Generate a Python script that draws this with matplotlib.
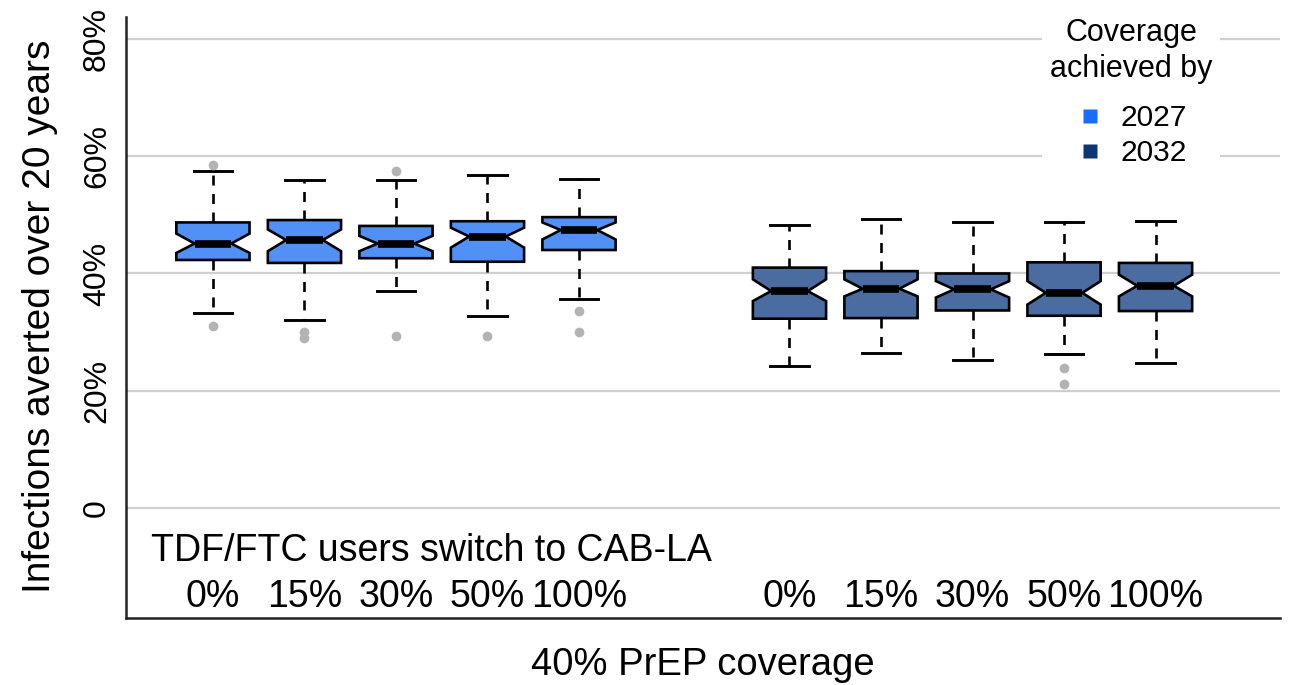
import matplotlib
matplotlib.use("Agg")
import matplotlib.pyplot as plt
from matplotlib.lines import Line2D
from matplotlib.patches import Rectangle

plt.rcParams['font.family'] = ['Liberation Sans', 'DejaVu Sans']

# switch shares and the two coverage years
switch_labels = ['0%', '15%', '30%', '50%', '100%']
years = ['2027', '2032']

# box statistics, % of infections averted (2027 first, then 2032)
med = [45.1, 45.7, 45.1, 46.3, 47.4, 37.0, 37.4, 37.3, 36.7, 37.9]
q1 = [42.3, 41.8, 42.6, 42.0, 44.0, 32.3, 32.4, 33.7, 32.8, 33.6]
q3 = [48.7, 49.1, 48.1, 48.9, 49.6, 41.0, 40.4, 40.0, 41.9, 41.8]
whislo = [33.3, 32.0, 37.0, 32.7, 35.7, 24.2, 26.4, 25.3, 26.3, 24.7]
whishi = [57.4, 56.0, 56.0, 56.8, 56.1, 48.2, 49.3, 48.8, 48.8, 48.9]
cilo = [43.5, 43.8, 43.8, 44.4, 45.8, 35.3, 36.1, 35.9, 34.7, 36.1]
cihi = [46.8, 47.5, 46.4, 47.8, 48.7, 39.0, 39.0, 38.7, 38.7, 39.8]
fliers = [[58.5, 31.0], [30.0, 29.0], [57.5, 29.3], [29.4], [33.6, 30.0],
          [], [], [], [23.9, 21.1], []]

positions = [1, 2, 3, 4, 5, 7.3, 8.3, 9.3, 10.3, 11.3]
box_colors = ['#5191f6'] * 5 + ['#4a6ca1'] * 5
legend_colors = ['#1a6cff', '#0d3572']

stats = []
for i in range(len(med)):
    stats.append(dict(med=med[i], q1=q1[i], q3=q3[i], whislo=whislo[i],
                      whishi=whishi[i], cilo=cilo[i], cihi=cihi[i],
                      fliers=fliers[i]))

W, H = 1289, 685
fig = plt.figure(figsize=(W / 100, H / 100), dpi=100)
ax = fig.add_axes([126 / W, 1 - 618 / H, (1280 - 126) / W, (618 - 17) / H])

bp = ax.bxp(stats, positions=positions, widths=0.8, capwidths=0.42,
            shownotches=True, patch_artist=True,
            boxprops=dict(edgecolor='black', linewidth=1.9),
            medianprops=dict(color='black', linewidth=5.5, solid_capstyle='butt'),
            whiskerprops=dict(color='black', linewidth=1.9, linestyle=(0, (3.8, 3.2))),
            capprops=dict(color='black', linewidth=2.1),
            flierprops=dict(marker='o', markerfacecolor='#b3b3b3',
                            markeredgecolor='none', markersize=7))
for patch, c in zip(bp['boxes'], box_colors):
    patch.set_facecolor(c)

ax.set_ylim(-18.7, 83.7)
ax.set_xlim(0.05, 12.66)
ax.set_yticks([0, 20, 40, 60, 80])
ax.set_yticklabels(['0', '20%', '40%', '60%', '80%'], rotation=90, va='center')
ax.tick_params(axis='y', length=0, pad=10, labelsize=23)
ax.set_xticks([])
ax.grid(axis='y', color='#cfcfcf', linewidth=1.6)
ax.set_axisbelow(True)
for side in ['top', 'right']:
    ax.spines[side].set_visible(False)
for side in ['left', 'bottom']:
    ax.spines[side].set_linewidth(1.8)
    ax.spines[side].set_color('#222222')

fig.text(40 / W, 1 - 316 / H, 'Infections averted over 20 years', fontsize=28,
         rotation=90, ha='center', va='center')
fig.text(703 / W, 1 - 665 / H, '40% PrEP coverage', fontsize=27.5,
         ha='center', va='center')

# group annotations drawn inside the plot area
ax.text(0.32, -7.2, 'TDF/FTC users switch to CAB-LA', fontsize=27, va='center', ha='left')
for p, lab in zip(positions, switch_labels * 2):
    ax.text(p, -15.2, lab, fontsize=27, va='center', ha='center')

# legend block with a white backing over the grid
ax.add_patch(Rectangle((1042 / W, 1 - 180 / H), 178 / W, 165 / H, transform=fig.transFigure,
                       facecolor='white', edgecolor='none', zorder=1))
fig.text(1131 / W, 1 - 51 / H, 'Coverage\nachieved by', fontsize=22, ha='center',
         va='center', linespacing=1.3, multialignment='center')
handles = [Line2D([], [], linestyle='none', marker='s', markersize=9.4,
                  markerfacecolor=c, markeredgecolor='none') for c in legend_colors]
fig.legend(handles, years, loc='upper left', bbox_to_anchor=(1077 / W, 1 - 104 / H),
           fontsize=21.5, frameon=False, handletextpad=0.55, handlelength=0.9,
           labelspacing=0.25, borderpad=0, borderaxespad=0)

fig.savefig('out.png', dpi=100)
